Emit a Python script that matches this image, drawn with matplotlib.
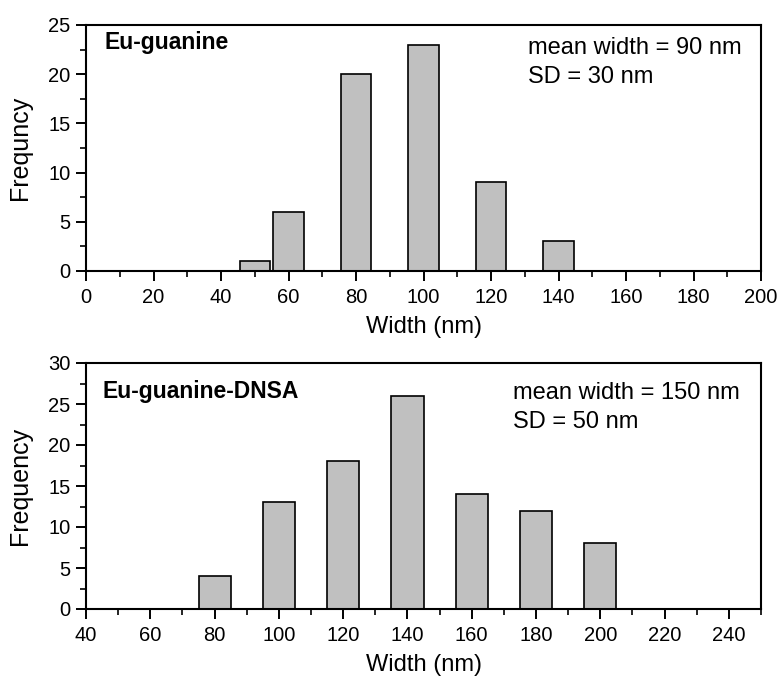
import numpy as np
import matplotlib
matplotlib.use("Agg")
import matplotlib.pyplot as plt
from matplotlib.ticker import MultipleLocator

plt.rcParams['font.family'] = ['Liberation Sans', 'DejaVu Sans']

# top panel: Eu-guanine
w1 = [50, 60, 80, 100, 120, 140]
f1 = [1, 6, 20, 23, 9, 3]
# bottom panel: Eu-guanine-DNSA
w2 = [80, 100, 120, 140, 160, 180, 200]
f2 = [4, 13, 18, 26, 14, 12, 8]

fig = plt.figure(figsize=(7.81, 6.77), dpi=100)
ax1 = fig.add_axes([86/781, 1-271/677, 675/781, 246/677])
ax2 = fig.add_axes([86/781, 1-609/677, 675/781, 246/677])

def style(ax, xlim, ylim, ylabel):
    ax.set_xlim(*xlim)
    ax.set_ylim(*ylim)
    ax.xaxis.set_major_locator(MultipleLocator(20))
    ax.xaxis.set_minor_locator(MultipleLocator(10))
    ax.yaxis.set_major_locator(MultipleLocator(5))
    ax.yaxis.set_minor_locator(MultipleLocator(2.5))
    ax.tick_params(which='major', direction='out', length=7, width=1.4, labelsize=14.5, pad=4)
    ax.tick_params(axis='x', which='major', pad=5)
    ax.tick_params(which='minor', direction='out', length=4, width=1.2)
    for s in ax.spines.values():
        s.set_linewidth(1.5)
    ax.set_xlabel('Width (nm)', fontsize=17, labelpad=7)
    ax.set_ylabel(ylabel, fontsize=18, labelpad=12)

ax1.bar(w1, f1, width=9, color='#c0c0c0', edgecolor='black', linewidth=1.2, zorder=2)
style(ax1, (0, 200), (0, 25), 'Frequncy')
ax1.text(0.028, 0.975, 'Eu-guanine', transform=ax1.transAxes, fontsize=16.5,
         fontweight='bold', va='top', ha='left')
ax1.text(0.655, 0.951, 'mean width = 90 nm\nSD = 30 nm', transform=ax1.transAxes,
         fontsize=17, va='top', ha='left', linespacing=1.4)

ax2.bar(w2, f2, width=10, color='#c0c0c0', edgecolor='black', linewidth=1.2, zorder=2)
style(ax2, (40, 250), (0, 30), 'Frequency')
ax2.text(0.025, 0.931, 'Eu-guanine-DNSA', transform=ax2.transAxes, fontsize=16.5,
         fontweight='bold', va='top', ha='left')
ax2.text(0.633, 0.923, 'mean width = 150 nm\nSD = 50 nm', transform=ax2.transAxes,
         fontsize=17, va='top', ha='left', linespacing=1.4)

fig.savefig('out.png', dpi=100)
